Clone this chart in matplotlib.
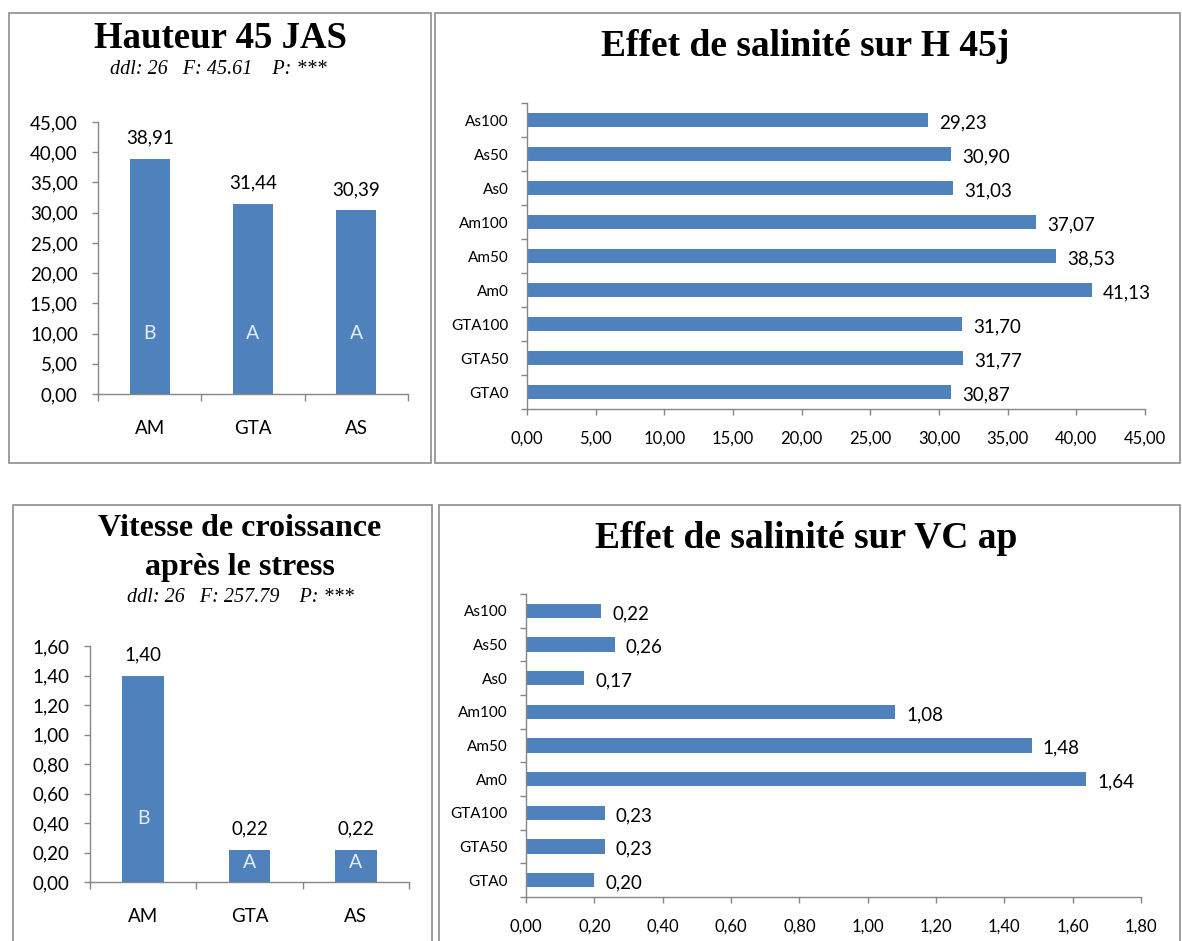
import matplotlib.pyplot as plt
from matplotlib.patches import Rectangle
from matplotlib.ticker import FuncFormatter, MultipleLocator, FixedLocator

# moyennes par groupe (histogrammes de gauche)
groupes = ['AM', 'GTA', 'AS']
hauteur_45 = [38.91, 31.44, 30.39]
lettres_hauteur = ['B', 'A', 'A']
vc_ap = [1.40, 0.22, 0.22]
lettres_vc = ['B', 'A', 'A']

# moyennes par traitement (barres horizontales de droite)
traitements = ['GTA0', 'GTA50', 'GTA100', 'Am0', 'Am50', 'Am100', 'As0', 'As50', 'As100']
h45_traitement = [30.87, 31.77, 31.70, 41.13, 38.53, 37.07, 31.03, 30.90, 29.23]
vc_traitement = [0.20, 0.23, 0.23, 1.64, 1.48, 1.08, 0.17, 0.26, 0.22]

BLEU = '#4F81BD'
GRIS = '#868686'
SERIF = 'Liberation Serif'
SANS = ['Lato', 'DejaVu Sans']


def virgule(v, pos=None):
    return f'{v:.2f}'.replace('.', ',')


def style_axes(ax):
    for s in ['top', 'right']:
        ax.spines[s].set_visible(False)
    for s in ['left', 'bottom']:
        ax.spines[s].set_color(GRIS)
        ax.spines[s].set_linewidth(1)
    ax.tick_params(which='both', color=GRIS, width=1)


def histo(ax, valeurs, lettres, ymax, pas, niveau_lettre):
    x = range(len(groupes))
    ax.bar(x, valeurs, width=0.39, color=BLEU)
    ax.set_xlim(-0.5, len(groupes) - 0.5)
    ax.set_ylim(0, ymax)
    ax.yaxis.set_major_locator(MultipleLocator(pas))
    ax.yaxis.set_major_formatter(FuncFormatter(virgule))
    ax.set_xticks(list(x))
    ax.set_xticklabels(groupes)
    ax.xaxis.set_minor_locator(FixedLocator([i - 0.5 for i in range(len(groupes) + 1)]))
    style_axes(ax)
    ax.tick_params(axis='x', which='major', length=0, pad=19)
    ax.tick_params(axis='x', which='minor', length=5, direction='out')
    ax.tick_params(axis='y', length=4.5, pad=10)
    for lab in ax.get_xticklabels() + ax.get_yticklabels():
        lab.set_family(SANS)
        lab.set_fontsize(13.5)
    for i, v in enumerate(valeurs):
        ax.annotate(virgule(v), (i, v), xytext=(0, 15), textcoords='offset points',
                    ha='center', va='center', fontsize=13.5, family=SANS)
        ax.text(i, min(niveau_lettre, v * 0.6), lettres[i], ha='center', va='center',
                fontsize=14, color='#E6ECF5', family=SANS)


def barres_h(ax, valeurs, xmax, pas):
    y = range(len(traitements))
    ax.barh(y, valeurs, height=0.42, color=BLEU)
    ax.set_ylim(-0.5, len(traitements) - 0.5)
    ax.set_xlim(0, xmax)
    ax.xaxis.set_major_locator(MultipleLocator(pas))
    ax.xaxis.set_major_formatter(FuncFormatter(virgule))
    ax.set_yticks(list(y))
    ax.set_yticklabels(traitements)
    ax.yaxis.set_minor_locator(FixedLocator([i - 0.5 for i in range(len(traitements) + 1)]))
    style_axes(ax)
    ax.tick_params(axis='y', which='major', length=0, pad=13)
    ax.tick_params(axis='y', which='minor', length=4.5, direction='out')
    ax.tick_params(axis='x', length=4.5, pad=11)
    for lab in ax.get_yticklabels():
        lab.set_family(SANS)
        lab.set_fontsize(11)
    for lab in ax.get_xticklabels():
        lab.set_family(SANS)
        lab.set_fontsize(12)
    for i, v in enumerate(valeurs):
        ax.annotate(virgule(v), (v, i), xytext=(8, -2), textcoords='offset points',
                    ha='left', va='center', fontsize=13.5, family=SANS)


W, H = 1182, 941
fig = plt.figure(figsize=(W / 100, H / 100), dpi=100)


def cadre(x0, y0, x1, y1):
    fig.patches.append(Rectangle((x0 / W, 1 - y1 / H), (x1 - x0) / W, (y1 - y0) / H,
                                 transform=fig.transFigure, fill=False,
                                 edgecolor='#8C8C8C', linewidth=1.2))


def axes_px(x0, y0, x1, y1):
    return fig.add_axes([x0 / W, 1 - y1 / H, (x1 - x0) / W, (y1 - y0) / H])


cadre(9, 13, 431, 463)
cadre(435, 13, 1180, 463)
cadre(13, 505, 432, 945)
cadre(439, 505, 1180, 945)

# Hauteur 45 JAS
ax1 = axes_px(98, 122, 408, 394)
histo(ax1, hauteur_45, lettres_hauteur, 45, 5, 10)
fig.text(220 / W, 1 - 38 / H, 'Hauteur 45 JAS', ha='center', va='center',
         family=SERIF, fontweight='bold', fontsize=26.5)
fig.text(218 / W, 1 - 70 / H, 'ddl: 26   F: 45.61    P: ***', ha='center', va='center',
         family=SERIF, style='italic', fontsize=14.5)

# Effet de salinité sur H 45j
ax2 = axes_px(527, 103, 1145, 409)
barres_h(ax2, h45_traitement, 45, 5)
fig.text(805 / W, 1 - 47 / H, 'Effet de salinité sur H 45j', ha='center', va='center',
         family=SERIF, fontweight='bold', fontsize=27)

# Vitesse de croissance
ax3 = axes_px(90, 646, 409, 882)
histo(ax3, vc_ap, lettres_vc, 1.6, 0.2, 0.43)
fig.text(240 / W, 1 - 528 / H, 'Vitesse de croissance', ha='center', va='center',
         family=SERIF, fontweight='bold', fontsize=23)
fig.text(240 / W, 1 - 567 / H, 'après le stress', ha='center', va='center',
         family=SERIF, fontweight='bold', fontsize=23)
fig.text(240 / W, 1 - 598 / H, 'ddl: 26   F: 257.79    P: ***', ha='center', va='center',
         family=SERIF, style='italic', fontsize=14.5)

# Effet de salinité sur VC ap
ax4 = axes_px(526, 594, 1141, 897)
barres_h(ax4, vc_traitement, 1.8, 0.2)
fig.text(806 / W, 1 - 538 / H, 'Effet de salinité sur VC ap', ha='center', va='center',
         family=SERIF, fontweight='bold', fontsize=27)

fig.savefig('out.png', dpi=100)
